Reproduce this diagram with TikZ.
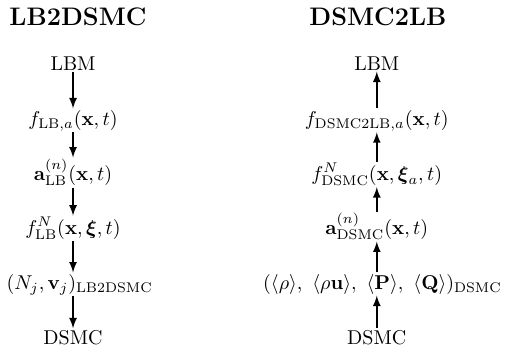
\documentclass[tikz,border=0pt]{standalone}
\usepackage{amsmath}
\usepackage{tikz}

\begin{document}
\begin{tikzpicture}[every node/.style={inner sep=0.6pt, anchor=base}, flow/.style={-latex, line width=0.8pt}, title/.style={font=\large\bfseries, scale=1.056, transform shape}]

\useasboundingbox (0,0) rectangle (8.925,-6.061);

% LB2DSMC column
\node[title] (ltitle) at (1.37,-0.44) {LB2DSMC};
\node (llbm) at (1.283,-1.23) {LBM};
\node (lf) at (1.283,-2.196) {$f_{\mathrm{LB},a}(\mathbf{x},t)$};
\node (la) at (1.283,-3.163) {$\mathbf{a}^{(n)}_{\mathrm{LB}}(\mathbf{x},t)$};
\node (lfn) at (1.283,-4.112) {$f^{N}_{\mathrm{LB}}(\mathbf{x},\boldsymbol{\xi},t)$};
\node (lnv) at (1.40,-5.078) {$(N_j,\mathbf{v}_j)_{\mathrm{LB2DSMC}}$};
\node (ldsmc) at (1.283,-6.044) {DSMC};

\draw[flow] (llbm) -- (lf);
\draw[flow] (lf) -- (la);
\draw[flow] (la) -- (lfn);
\draw[flow] (lfn) -- (lfn |- lnv.north);
\draw[flow] (lfn |- lnv.south) -- (ldsmc);

% DSMC2LB column
\node[title] (rtitle) at (6.64,-0.44) {DSMC2LB};
\node (rlbm) at (6.62,-1.23) {LBM};
\node (rf) at (6.62,-2.196) {$f_{\mathrm{DSMC2LB},a}(\mathbf{x},t)$};
\node (rfn) at (6.62,-3.163) {$f^{N}_{\mathrm{DSMC}}(\mathbf{x},\boldsymbol{\xi}_a,t)$};
\node (ra) at (6.62,-4.112) {$\mathbf{a}^{(n)}_{\mathrm{DSMC}}(\mathbf{x},t)$};
\node (rmom) at (6.72,-5.078) {$(\langle\rho\rangle,\ \langle\rho\mathbf{u}\rangle,\ \langle\mathbf{P}\rangle,\ \langle\mathbf{Q}\rangle)_{\mathrm{DSMC}}$};
\node (rdsmc) at (6.62,-6.044) {DSMC};

\draw[flow] (rdsmc) -- (ra |- rmom.south);
\draw[flow] (ra |- rmom.north) -- (ra);
\draw[flow] (ra) -- (rfn);
\draw[flow] (rfn) -- (rf);
\draw[flow] (rf) -- (rlbm);

\end{tikzpicture}
\end{document}
